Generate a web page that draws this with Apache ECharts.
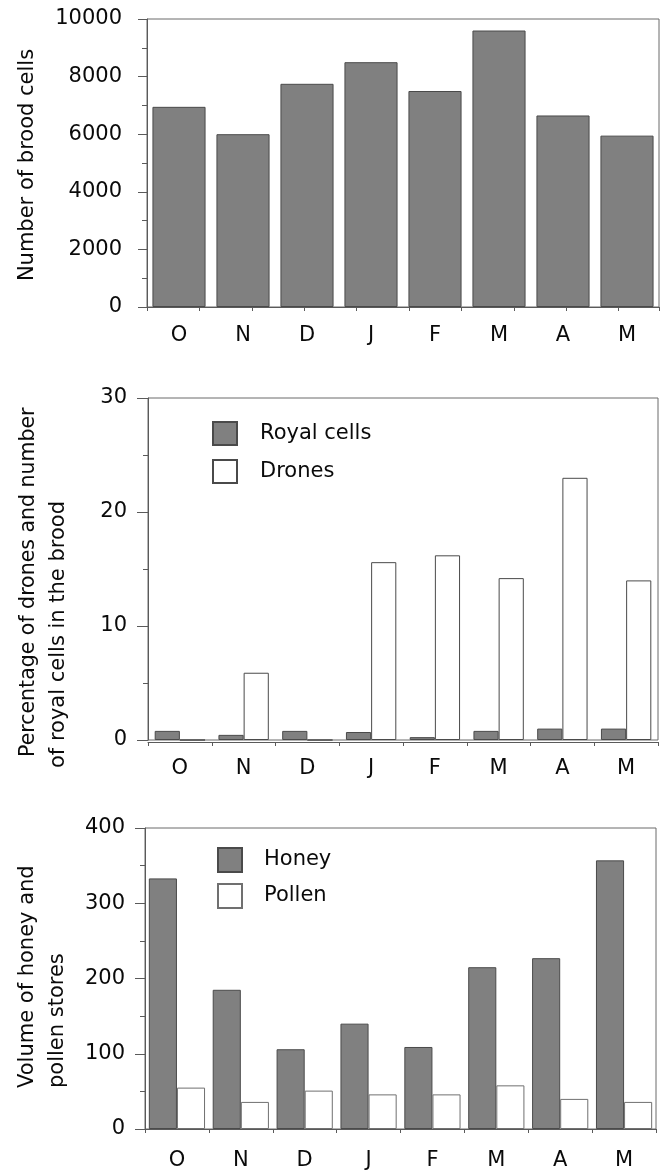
<!DOCTYPE html>
<html><head><meta charset="utf-8">
<script src="https://cdn.jsdelivr.net/npm/echarts@6/dist/echarts.min.js"></script>
<style>html,body{margin:0;padding:0;background:#fff}#c{width:661px;height:1174px}</style>
</head><body><div id="c"></div>
<script>
// ---- data ----
const months = ['O', 'N', 'D', 'J', 'F', 'M', 'A', 'M'];
const broodCells = [6950, 6000, 7750, 8500, 7500, 9600, 6650, 5950];
const royalCells = [0.8, 0.45, 0.8, 0.7, 0.25, 0.8, 1.0, 1.0];
const drones = [0, 5.9, 0, 15.6, 16.2, 14.2, 23.0, 14.0];
const honey = [333, 185, 106, 140, 109, 215, 227, 357];
const pollen = [55, 36, 51, 46, 46, 58, 40, 36];
const broodAxis = [0, 10000, 2000];   // min, max, interval
const droneAxis = [0, 30, 10];
const storeAxis = [0, 400, 100];
const legend2 = ['Royal cells', 'Drones'];
const legend3 = ['Honey', 'Pollen'];

const FONT = 'DejaVu Sans';
const TXT = '#0a0a0a';
const AX = '#5a5a5a';
const GRAY = '#808080';

function yAx(grid, r, margin, tickLen) {
  return {
    type: 'value', gridIndex: grid, min: r[0], max: r[1], interval: r[2],
    axisLine: { show: true, lineStyle: { color: AX, width: 1 } },
    axisTick: { show: true, length: tickLen, lineStyle: { color: AX } },
    minorTick: { show: true, splitNumber: 2, length: 5, lineStyle: { color: AX } },
    splitLine: { show: false },
    axisLabel: { margin: margin, fontFamily: FONT, fontSize: 21, color: TXT, formatter: (v) => String(v) }
  };
}
function xCat(grid, margin, extra) {
  return Object.assign({
    type: 'category', gridIndex: grid, data: months,
    axisLine: { show: true, onZero: false, lineStyle: { color: AX, width: 1 } },
    axisTick: { show: true, length: 4, lineStyle: { color: AX } },
    axisLabel: { margin: margin, fontFamily: FONT, fontSize: 21, color: TXT },
    splitLine: { show: false }
  }, extra || {});
}
const gridBase = { show: true, borderColor: '#6a6a6a', borderWidth: 1, containLabel: false };

const titleStyle = (t) => ({ text: t, fontFamily: FONT, fontSize: 21, fill: TXT });

const option = {
  animation: false,
  backgroundColor: '#fff',
  grid: [
    Object.assign({ left: 147, width: 512, top: 19, height: 288 }, gridBase),
    Object.assign({ left: 148, width: 510, top: 398, height: 342 }, gridBase),
    Object.assign({ left: 145, width: 511, top: 828, height: 301 }, gridBase)
  ],
  xAxis: [
    xCat(0, 18, { axisTick: { show: false } }),
    { type: 'value', gridIndex: 0, position: 'bottom', min: 0, max: 9.77, interval: 1,
      axisLine: { show: false }, axisLabel: { show: false }, splitLine: { show: false },
      axisTick: { show: true, length: 4, lineStyle: { color: AX } } },
    xCat(1, 16, { offset: 2 }),
    xCat(2, 21)
  ],
  yAxis: [
    yAx(0, broodAxis, 25, 9),
    yAx(1, droneAxis, 21, 11),
    yAx(2, storeAxis, 20, 10)
  ],
  legend: [
    { data: legend2, orient: 'vertical', left: 212, top: 421, padding: 0, itemWidth: 24, itemHeight: 23, itemGap: 13,
      icon: 'rect', selectedMode: false,
      textStyle: { fontFamily: FONT, fontSize: 21, color: TXT, lineHeight: 15, padding: [8, 0, 0, 18] } },
    { data: legend3, orient: 'vertical', left: 217, top: 847, padding: 0, itemWidth: 24, itemHeight: 24, itemGap: 10,
      icon: 'rect', selectedMode: false,
      textStyle: { fontFamily: FONT, fontSize: 21, color: TXT, lineHeight: 16, padding: [8, 0, 0, 17] } }
  ],
  graphic: [
    { type: 'text', rotation: Math.PI / 2, x: 28, y: 165,
      style: Object.assign(titleStyle('Number of brood cells'), { align: 'center', verticalAlign: 'middle' }) },
    { type: 'text', rotation: Math.PI / 2, x: 29, y: 757,
      style: Object.assign(titleStyle('Percentage of drones and number'), { align: 'left', verticalAlign: 'middle', fontSize: 20.5 }) },
    { type: 'text', rotation: Math.PI / 2, x: 59, y: 768,
      style: Object.assign(titleStyle('of royal cells in the brood'), { align: 'left', verticalAlign: 'middle' }) },
    { type: 'text', rotation: Math.PI / 2, x: 28, y: 1088,
      style: Object.assign(titleStyle('Volume of honey and'), { align: 'left', verticalAlign: 'middle' }) },
    { type: 'text', rotation: Math.PI / 2, x: 58, y: 1088,
      style: Object.assign(titleStyle('pollen stores'), { align: 'left', verticalAlign: 'middle' }) }
  ],
  series: [
    { type: 'bar', name: 'Brood', xAxisIndex: 0, yAxisIndex: 0, data: broodCells, barCategoryGap: '17%',
      itemStyle: { color: GRAY, borderColor: '#4a4a4a', borderWidth: 1 } },
    { type: 'bar', name: legend2[0], xAxisIndex: 2, yAxisIndex: 1, data: royalCells, barGap: 0, barCategoryGap: '21%',
      itemStyle: { color: GRAY, borderColor: '#4a4a4a', borderWidth: 1 } },
    { type: 'bar', name: legend2[1], xAxisIndex: 2, yAxisIndex: 1, data: drones, barGap: 0, barCategoryGap: '21%',
      itemStyle: { color: '#ffffff', borderColor: '#4a4a4a', borderWidth: 1 } },
    { type: 'bar', name: legend3[0], xAxisIndex: 3, yAxisIndex: 2, data: honey, barGap: 0, barCategoryGap: '12%',
      itemStyle: { color: GRAY, borderColor: '#4a4a4a', borderWidth: 1 } },
    { type: 'bar', name: legend3[1], xAxisIndex: 3, yAxisIndex: 2, data: pollen, barGap: 0, barCategoryGap: '12%',
      itemStyle: { color: '#ffffff', borderColor: '#707070', borderWidth: 1 } }
  ]
};
const chart = echarts.init(document.getElementById('c'), null, { renderer: 'canvas' });
chart.setOption(option);
</script></body></html>
